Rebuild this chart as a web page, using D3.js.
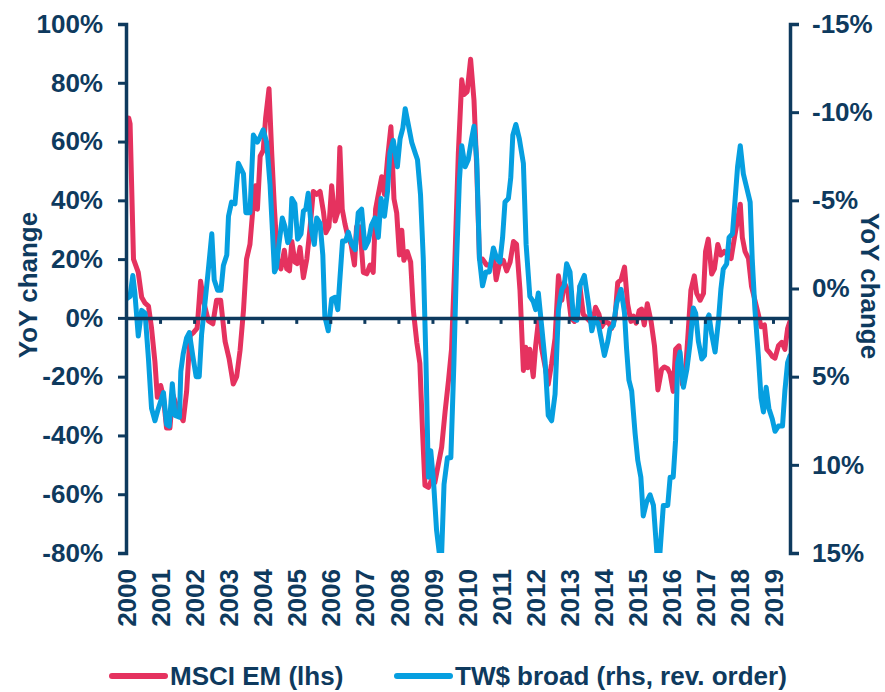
<!DOCTYPE html>
<meta charset="utf-8">
<style>
    body { margin: 0; background: #fff; }
    svg { display: block; }
    text { font-family: "Liberation Sans", Arial, sans-serif; font-weight: bold; fill: #0e3a5e; }
    .line { fill: none; stroke-width: 5px; stroke-linejoin: round; stroke-linecap: round; }
</style>
<svg width="885" height="692"></svg>
<script src="https://cdn.jsdelivr.net/npm/d3@7"></script>
<script>
    // MSCI EM, YoY %, left axis
    var emDates = [2000.00, 2000.08, 2000.12, 2000.22, 2000.36, 2000.46, 2000.56, 2000.66, 2000.75, 2000.85, 2000.92,
        2001.02, 2001.10, 2001.19, 2001.29, 2001.37, 2001.49, 2001.59, 2001.68, 2001.78, 2001.88, 2001.98,
        2002.09, 2002.19, 2002.29, 2002.42, 2002.55, 2002.66, 2002.78, 2002.91,
        2003.03, 2003.15, 2003.25, 2003.35, 2003.45, 2003.54, 2003.64, 2003.74, 2003.80, 2003.86, 2003.94,
        2004.03, 2004.10, 2004.20, 2004.28, 2004.36, 2004.45, 2004.55, 2004.65, 2004.72, 2004.80, 2004.87, 2004.96,
        2005.03, 2005.11, 2005.21, 2005.31, 2005.40, 2005.50, 2005.60, 2005.70, 2005.80, 2005.87, 2005.96,
        2006.04, 2006.14, 2006.22, 2006.28, 2006.35, 2006.43, 2006.51, 2006.61, 2006.71, 2006.77, 2006.87, 2006.97,
        2007.07, 2007.17, 2007.26, 2007.33, 2007.41, 2007.51, 2007.59, 2007.68, 2007.78, 2007.87, 2007.95,
        2008.03, 2008.10, 2008.16, 2008.26, 2008.36, 2008.44, 2008.54, 2008.63, 2008.71, 2008.78, 2008.88, 2008.98,
        2009.07, 2009.17, 2009.27, 2009.37, 2009.47, 2009.56, 2009.66, 2009.76, 2009.86, 2009.93,
        2010.02, 2010.12, 2010.22, 2010.30, 2010.38, 2010.47, 2010.59, 2010.71, 2010.79, 2010.87, 2010.96,
        2011.08, 2011.18, 2011.28, 2011.38, 2011.47, 2011.57, 2011.67, 2011.74, 2011.80, 2011.86, 2011.91, 2011.96,
        2012.03, 2012.11, 2012.21, 2012.31, 2012.40, 2012.50, 2012.60, 2012.70, 2012.80, 2012.87, 2012.97,
        2013.07, 2013.17, 2013.26, 2013.33, 2013.43, 2013.53, 2013.63, 2013.72, 2013.79, 2013.89, 2013.97,
        2014.07, 2014.18, 2014.26, 2014.36, 2014.44, 2014.54, 2014.64, 2014.73, 2014.83, 2014.90, 2014.98,
        2015.07, 2015.14, 2015.22, 2015.31, 2015.42, 2015.52, 2015.62, 2015.73, 2015.81, 2015.91, 2015.98,
        2016.07, 2016.14, 2016.24, 2016.34, 2016.44, 2016.51, 2016.59, 2016.69, 2016.76, 2016.86, 2016.96,
        2017.02, 2017.10, 2017.20, 2017.28, 2017.38, 2017.47, 2017.57, 2017.67, 2017.77, 2017.87, 2017.96,
        2018.04, 2018.10, 2018.18, 2018.28, 2018.37, 2018.47, 2018.57, 2018.65, 2018.75, 2018.82, 2018.91, 2018.98,
        2019.06, 2019.16, 2019.26, 2019.35, 2019.43, 2019.50];
    var emValues = [67, 68, 66, 20, 15.5, 7, 5, 4, -3.5, -15, -27,
        -23, -27, -37.5, -37.5, -26, -30, -33, -35, -25, -6, -5,
        -3.5, 12.5, 5, -1, -2, 6, 6, -8,
        -14, -22.5, -20, -11, 2.5, 20, 25, 39, 45, 37, 55,
        57, 68, 78, 56, 37, 20, 16.7, 23, 16.7, 16, 26, 19,
        18.5, 24, 13.7, 20, 30, 43, 42, 43, 36, 29, 31,
        45, 33, 36, 58, 37, 32, 28, 25, 18, 31, 31, 15.5,
        15, 18, 15.5, 37, 42, 48, 42, 54, 65, 40.5, 35.7,
        21.4, 29.8, 19.6, 22.6, 19, 2.4, -8.3, -15.5, -39, -57, -57.7, -55,
        -56, -50, -44, -32, -21.4, -10.7, 20, 56, 81, 76,
        77, 88, 74, 51, 20, 20, 18, 18, 21.4, 13, 18,
        19.6, 16, 19, 26, 25, 9.5, -17.9, -10, -17, -10.7, -15.5, -20,
        -9.5, -1.2, -10.7, -16.7, -22.6, -15.5, -7, 14.3, 6, 12, 9.5,
        0, -1.2, 0, 10.7, 1.2, 0, -1.2, -0.6, 3.6, 1.2, -3,
        -1.2, -1.8, -3.6, 0, 12, 13, 17.3, 4.8, -1.2, 0.6, -1.8,
        2.4, 3, -2.4, 4.8, -1.2, -9.5, -24.5, -17.5, -16.7, -17.3, -19,
        -25, -10.7, -9.5, -22.6, -16.7, -4.8, 9.5, 14.3, 8.3, 6, 8.3,
        22.6, 26.8, 14.9, 16.7, 25, 21.4, 22.6, 21.4, 20.2, 27.4, 33.3,
        38.7, 27.4, 22.6, 20.2, 10.7, 6, 1.2, -3, -2.4, -10.7, -11.9, -13.1,
        -13.7, -9.5, -8.3, -10.7, -3.6, -1.2];

    // TW$ broad, YoY %, right axis (reversed)
    var usdDates = [2000.00, 2000.12, 2000.20, 2000.26, 2000.36, 2000.46, 2000.56, 2000.66, 2000.75, 2000.85, 2000.95,
        2001.10, 2001.19, 2001.27, 2001.36, 2001.44, 2001.57, 2001.61, 2001.68, 2001.78, 2001.86, 2001.96,
        2002.06, 2002.15, 2002.22, 2002.32, 2002.42, 2002.52, 2002.59, 2002.69, 2002.79, 2002.86, 2002.96,
        2003.01, 2003.10, 2003.20, 2003.30, 2003.45, 2003.52, 2003.64, 2003.74, 2003.86, 2003.94,
        2004.03, 2004.13, 2004.23, 2004.30, 2004.36, 2004.42, 2004.49, 2004.59, 2004.67, 2004.75, 2004.82, 2004.87, 2004.96,
        2005.04, 2005.14, 2005.21, 2005.28, 2005.35, 2005.45, 2005.53, 2005.60, 2005.70, 2005.78, 2005.84, 2005.94,
        2006.04, 2006.14, 2006.22, 2006.28, 2006.36, 2006.45, 2006.53, 2006.63, 2006.73, 2006.82, 2006.92,
        2007.02, 2007.12, 2007.21, 2007.31, 2007.41, 2007.49, 2007.59, 2007.68, 2007.75, 2007.85, 2007.97,
        2008.05, 2008.13, 2008.20, 2008.29, 2008.39, 2008.49, 2008.56, 2008.65, 2008.73, 2008.81, 2008.88, 2008.95,
        2009.03, 2009.12, 2009.20, 2009.27, 2009.34, 2009.44, 2009.54, 2009.63, 2009.71, 2009.79, 2009.86, 2009.96,
        2010.05, 2010.15, 2010.22, 2010.30, 2010.38, 2010.47, 2010.57, 2010.67, 2010.79, 2010.89, 2010.98,
        2011.06, 2011.13, 2011.23, 2011.30, 2011.36, 2011.45, 2011.55, 2011.67, 2011.75, 2011.86, 2011.96,
        2012.03, 2012.11, 2012.21, 2012.31, 2012.40, 2012.50, 2012.60, 2012.70, 2012.80, 2012.87, 2012.94,
        2013.04, 2013.14, 2013.24, 2013.33, 2013.46, 2013.58, 2013.68, 2013.77, 2013.87, 2013.95,
        2014.05, 2014.15, 2014.21, 2014.31, 2014.41, 2014.54, 2014.64, 2014.70, 2014.77, 2014.85, 2014.95,
        2015.03, 2015.12, 2015.19, 2015.29, 2015.39, 2015.49, 2015.59, 2015.68, 2015.78, 2015.91, 2015.98,
        2016.07, 2016.14, 2016.20, 2016.27, 2016.37, 2016.47, 2016.56, 2016.66, 2016.73, 2016.81, 2016.91, 2016.99,
        2017.05, 2017.12, 2017.20, 2017.30, 2017.40, 2017.47, 2017.54, 2017.64, 2017.71, 2017.81, 2017.89, 2017.96,
        2018.04, 2018.13, 2018.23, 2018.33, 2018.39, 2018.47, 2018.57, 2018.65, 2018.72, 2018.80, 2018.88, 2018.98,
        2019.06, 2019.16, 2019.28, 2019.35, 2019.43, 2019.50];
    var usdValues = [0.6, 0.45, -0.74, 0.25, 2.7, 1.24, 1.4, 4.0, 6.8, 7.5, 6.8,
        5.9, 7.7, 7.8, 5.4, 7.2, 7.3, 4.7, 3.7, 2.8, 2.5, 3.8,
        5.0, 5.0, 2.6, 0.8, -1.1, -3.1, -0.5, 0.1, 0.1, -1.3, -1.9,
        -4.1, -4.9, -4.8, -7.1, -6.5, -4.3, -4.3, -8.7, -8.3, -8.6,
        -9.0, -8.3, -5.9, -3.3, -0.94, -1.2, -2.5, -4.0, -3.5, -2.6, -2.9, -5.1, -4.8,
        -2.8, -3.1, -4.4, -4.5, -5.4, -3.3, -2.5, -4.0, -3.7, -1.9, 1.6, 2.4,
        0.6, 0.5, 1.2, -0.5, -2.7, -2.7, -3.2, -2.5, -2.2, -4.3, -4.5,
        -2.3, -2.7, -3.6, -4.0, -2.9, -5.1, -4.1, -5.5, -7.7, -8.4, -6.9,
        -8.5, -9.1, -10.2, -9.3, -8.3, -7.7, -7.3, -5.3, -1.7, 4.2, 10.7, 9.2,
        10.9, 13.7, 15, 15, 11.1, 9.6, 9.6, 4.2, -1.7, -6.1, -8.1, -6.9,
        -7.3, -8.5, -9.2, -7.3, -1.7, -0.15, -0.94, -0.94, -2.3, -1.7, -1.5,
        -2.9, -4.9, -5.1, -6.3, -8.7, -9.3, -8.5, -7.1, -2.5, 0.45, 0.74,
        1.2, 0.25, 2.2, 4.2, 7.2, 7.5, 6.0, 1.2, 0.05, -0.15, -1.4,
        -0.94, 1.7, 1.8, -0.15, -0.74, 0.84, 2.4, 1.7, 2.0, 2.8,
        3.8, 3.0, 2.3, 2.1, 0.84, 0.05, 1.4, 3.4, 5.2, 5.8, 8.2,
        9.75, 10.7, 12.9, 12.1, 11.7, 12.3, 15, 15, 12.3, 12.3, 10.7,
        10.7, 8.6, 4.2, 3.6, 5.6, 4.6, 3.2, 1.1, 1.4, 3.0, 4.0, 3.8,
        1.8, 1.5, 2.6, 3.6, 1.8, 0.05, -1.1, -1.4, -2.9, -3.1, -5.1, -6.9,
        -8.1, -6.5, -5.7, -4.9, -1.7, 1.2, 3.8, 6.2, 7.0, 5.6, 6.8, 7.4,
        8.1, 7.8, 7.8, 5.8, 4.2, 3.8];

    var years = d3.range(2000, 2020);
    var leftTicks = d3.range(-80, 101, 20);
    var rightTicks = d3.range(-15, 16, 5);

    var navy = '#0e3a5e';
    var red = '#e5325f';
    var blue = '#069fe0';
    var fontSize = '26px';

    var svg = d3.select('svg');
    var margin = {left: 126, right: 95, top: 24, bottom: 139};
    var width = +svg.attr('width') - margin.left - margin.right;
    var height = +svg.attr('height') - margin.top - margin.bottom;
    var g = svg.append('g').attr('transform', `translate(${margin.left}, ${margin.top})`);

    var x = d3.scaleLinear().domain([2000, 2019.5]).range([0, width]);
    var yL = d3.scaleLinear().domain([-80, 100]).range([height, 0]);
    var yR = d3.scaleLinear().domain([-15, 15]).range([0, height]);

    var em = emDates.map(function (d, i) { return {t: d, v: emValues[i]}; });
    var usd = usdDates.map(function (d, i) { return {t: d, v: usdValues[i]}; });

    g.append('clipPath').attr('id', 'clip')
        .append('rect').attr('x', 0).attr('y', 0).attr('width', width).attr('height', height);

    var lineL = d3.line().x(function (d) { return x(d.t); }).y(function (d) { return yL(d.v); });
    var lineR = d3.line().x(function (d) { return x(d.t); }).y(function (d) { return yR(d.v); });

    g.append('path').datum(em).attr('class', 'line').attr('stroke', red)
        .attr('clip-path', 'url(#clip)').attr('d', lineL);
    g.append('path').datum(usd).attr('class', 'line').attr('stroke', blue)
        .attr('clip-path', 'url(#clip)').attr('d', lineR);

    // zero line with year ticks
    var xAxis = g.append('g')
        .attr('transform', `translate(0, ${yL(0)})`)
        .call(d3.axisBottom(x).tickValues(years).tickSize(6).tickSizeOuter(0).tickFormat(''));
    xAxis.select('.domain').attr('stroke', navy).attr('stroke-width', 3.5);
    xAxis.selectAll('.tick line').attr('stroke', navy).attr('stroke-width', 3);

    // year labels under the plot
    g.selectAll('.year')
        .data(years)
        .enter().append('text')
        .attr('class', 'year')
        .attr('transform', function (d) { return `translate(${x(d) + 1}, ${height + 16}) rotate(-90)`; })
        .attr('text-anchor', 'end')
        .attr('dy', '0.35em')
        .style('font-size', fontSize)
        .text(function (d) { return d; });

    var leftAxis = g.append('g')
        .call(d3.axisLeft(yL).tickValues(leftTicks).tickSize(8).tickPadding(15)
            .tickFormat(function (d) { return d + '%'; }));
    var rightAxis = g.append('g')
        .attr('transform', `translate(${width}, 0)`)
        .call(d3.axisRight(yR).tickValues(rightTicks).tickSize(9).tickPadding(13)
            .tickFormat(function (d) { return d + '%'; }));
    [leftAxis, rightAxis].forEach(function (a) {
        a.select('.domain').attr('stroke', navy).attr('stroke-width', 3.5);
        a.selectAll('.tick line').attr('stroke', navy).attr('stroke-width', 3);
        a.selectAll('.tick text').attr('fill', navy).style('font-size', fontSize)
            .style('font-family', '"Liberation Sans", Arial, sans-serif').style('font-weight', 'bold');
    });

    // axis titles
    svg.append('text')
        .attr('transform', 'translate(28, 285) rotate(-90)')
        .attr('text-anchor', 'middle').attr('dy', '0.35em')
        .style('font-size', fontSize)
        .text('YoY change');
    svg.append('text')
        .attr('transform', 'translate(870, 286) rotate(90)')
        .attr('text-anchor', 'middle').attr('dy', '0.35em')
        .style('font-size', fontSize)
        .text('YoY change');

    // legend
    var legend = svg.append('g').attr('transform', 'translate(0, 676)');
    var items = [
        {label: 'MSCI EM (lhs)', color: red, x: 112},
        {label: 'TW$ broad (rhs, rev. order)', color: blue, x: 397}
    ];
    var item = legend.selectAll('.item').data(items).enter().append('g')
        .attr('transform', function (d) { return `translate(${d.x}, 0)`; });
    item.append('line')
        .attr('x1', 0).attr('x2', 53).attr('y1', 0).attr('y2', 0)
        .attr('stroke', function (d) { return d.color; })
        .attr('stroke-width', 6).attr('stroke-linecap', 'round');
    item.append('text')
        .attr('x', 58).attr('dy', '0.35em')
        .style('font-size', '26px')
        .text(function (d) { return d.label; });
</script>
